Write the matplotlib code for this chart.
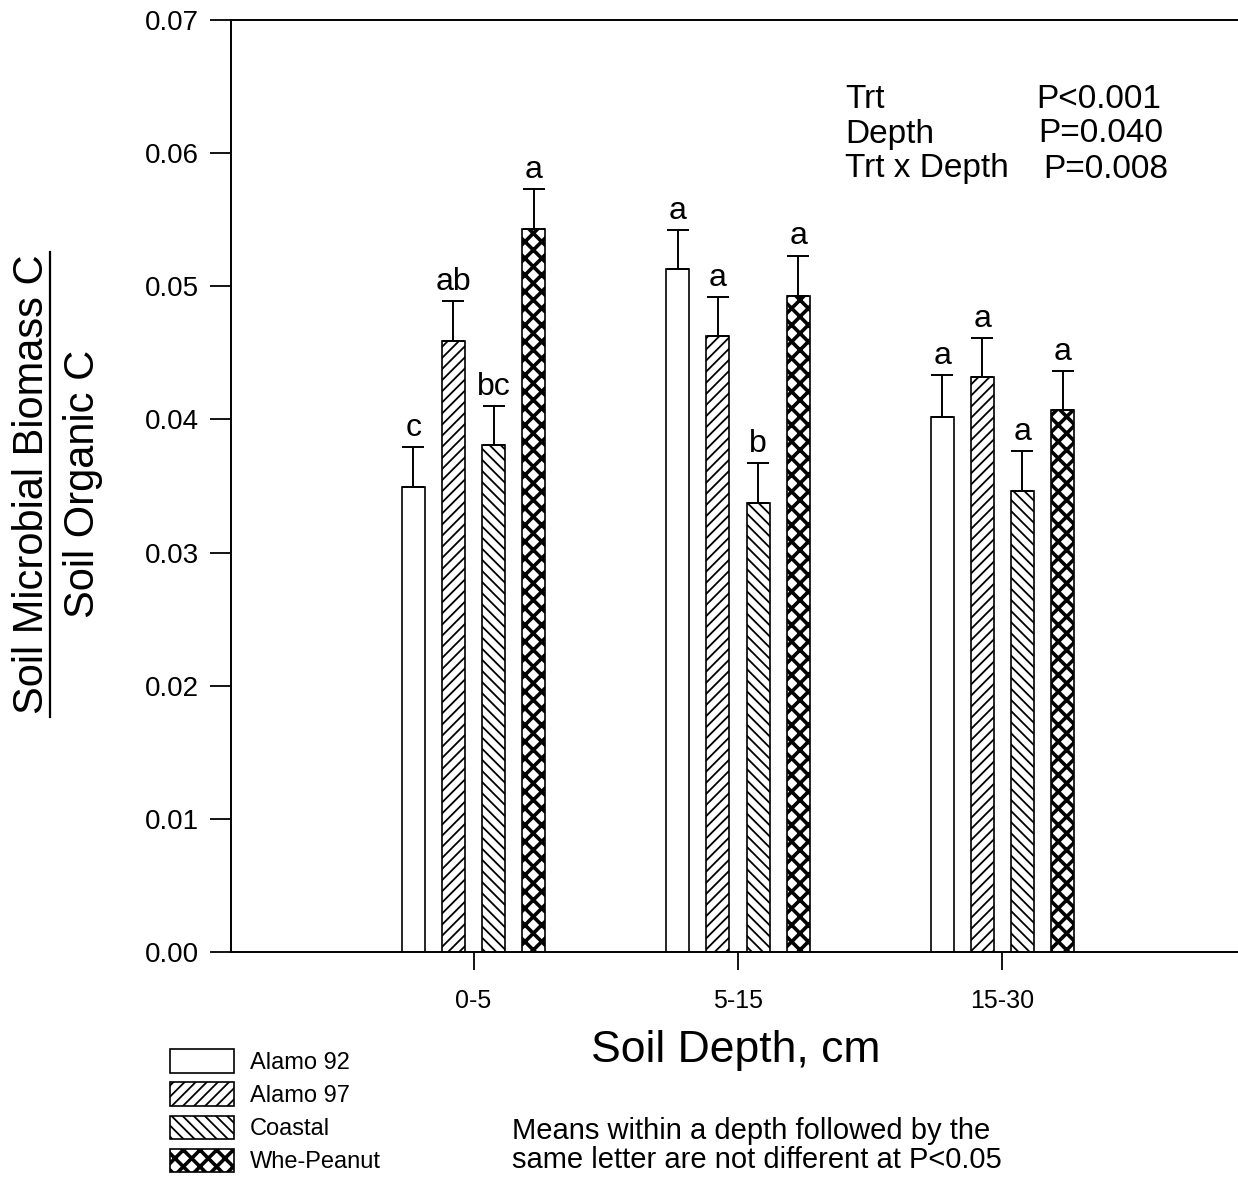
import matplotlib
matplotlib.use("Agg")
import matplotlib.pyplot as plt
import numpy as np
from matplotlib.lines import Line2D

plt.rcParams['font.family'] = ['Liberation Sans', 'DejaVu Sans']
plt.rcParams['hatch.linewidth'] = 1.3

depths = ['0-5', '5-15', '15-30']
treatments = ['Alamo 92', 'Alamo 97', 'Coastal', 'Whe-Peanut']
hatches = ['', '///', '\\\\\\', 'xx']

means = {
    'Alamo 92':   [0.0349, 0.0513, 0.0402],
    'Alamo 97':   [0.0459, 0.0463, 0.0432],
    'Coastal':    [0.0381, 0.0337, 0.0346],
    'Whe-Peanut': [0.0543, 0.0493, 0.0407],
}
errors = {
    'Alamo 92':   [0.0030, 0.0029, 0.0031],
    'Alamo 97':   [0.0030, 0.0029, 0.0029],
    'Coastal':    [0.0029, 0.0030, 0.0030],
    'Whe-Peanut': [0.0030, 0.0030, 0.0029],
}
letters = {
    'Alamo 92':   ['c', 'a', 'a'],
    'Alamo 97':   ['ab', 'a', 'a'],
    'Coastal':    ['bc', 'b', 'a'],
    'Whe-Peanut': ['a', 'a', 'a'],
}

W, H = 1238, 1179
fig = plt.figure(figsize=(W / 100, H / 100), dpi=100)
ax = fig.add_axes([231 / W, 1 - 952 / H, 1 - 231 / W + 0.002, (952 - 20) / H])

x = np.arange(len(depths))
offsets = np.array([-1.5, -0.5, 0.5, 1.5]) * (40 / 264)
width = 23 / 264

handles = []
for i, t in enumerate(treatments):
    xs = x + offsets[i]
    bars = ax.bar(xs, means[t], width=width, color='white', edgecolor='black',
                  linewidth=1.2, hatch=hatches[i], label=t, zorder=2)
    if t == 'Whe-Peanut':
        for b in bars:
            try:
                b.set_hatch_linewidth(2.6)
            except Exception:
                pass
    handles.append(bars)
    ax.errorbar(xs, means[t], yerr=[np.zeros(3), errors[t]], fmt='none',
                 ecolor='black', elinewidth=1.4, capsize=8, capthick=1.4, zorder=3)
    for xi, m, e, l in zip(xs, means[t], errors[t], letters[t]):
        ax.annotate(l, (xi, m + e), xytext=(0, 3), textcoords='offset points',
                    ha='center', va='bottom', fontsize=23)

ax.set_xlim(-0.917, 2.9)
ax.set_ylim(0, 0.07)
ax.set_yticks(np.arange(0, 0.071, 0.01))
ax.set_yticklabels([f'{v:.2f}' for v in np.arange(0, 0.071, 0.01)])
ax.set_xticks(x)
ax.set_xticklabels(depths)
ax.tick_params(axis='y', direction='out', length=15, width=1.3, labelsize=20, pad=8)
ax.tick_params(axis='x', direction='out', length=13, width=1.3, labelsize=18, pad=14)
ax.spines['right'].set_visible(False)
for s in ['left', 'bottom', 'top']:
    ax.spines[s].set_linewidth(1.4)

ax.set_xlabel('Soil Depth, cm', fontsize=32, labelpad=12)

# Y label (fraction)
fig.text(43 / W, 1 - 484 / H, 'Soil Microbial Biomass C', rotation=90,
         rotation_mode='anchor', ha='center', va='baseline', fontsize=30)
fig.text(94 / W, 1 - 484 / H, 'Soil Organic C', rotation=90,
         rotation_mode='anchor', ha='center', va='baseline', fontsize=30)
fig.add_artist(Line2D([50 / W, 50 / W], [1 - 717 / H, 1 - 252 / H],
                      transform=fig.transFigure, color='black', linewidth=1.6))

# Statistics text
stat_left = ['Trt', 'Depth', 'Trt x Depth']
stat_right = ['P<0.001', 'P=0.040', 'P=0.008']
right_x = [1036, 1038, 1043]
row_y = [100, 134, 169]
for sl, sr, rx, ry in zip(stat_left, stat_right, right_x, row_y):
    fig.text(845 / W, 1 - ry / H, sl, ha='left', va='center', fontsize=24)
    fig.text(rx / W, 1 - ry / H, sr, ha='left', va='center', fontsize=24)

# Legend
leg = fig.legend(handles=handles, labels=treatments, loc='lower left',
                 bbox_to_anchor=(153 / W, 1 - 1190 / H), frameon=False, fontsize=17,
                 handlelength=2.75, handleheight=1.15, labelspacing=0.36,
                 handletextpad=0.65, borderpad=0.2)
try:
    leg.get_patches()[3].set_hatch_linewidth(2.6)
except Exception:
    pass

# Footnote
fig.text(512 / W, 1 - 1174 / H,
         'Means within a depth followed by the\nsame letter are not different at P<0.05',
         ha='left', va='bottom', fontsize=21, linespacing=1.05)

fig.savefig('out.png', dpi=100)
